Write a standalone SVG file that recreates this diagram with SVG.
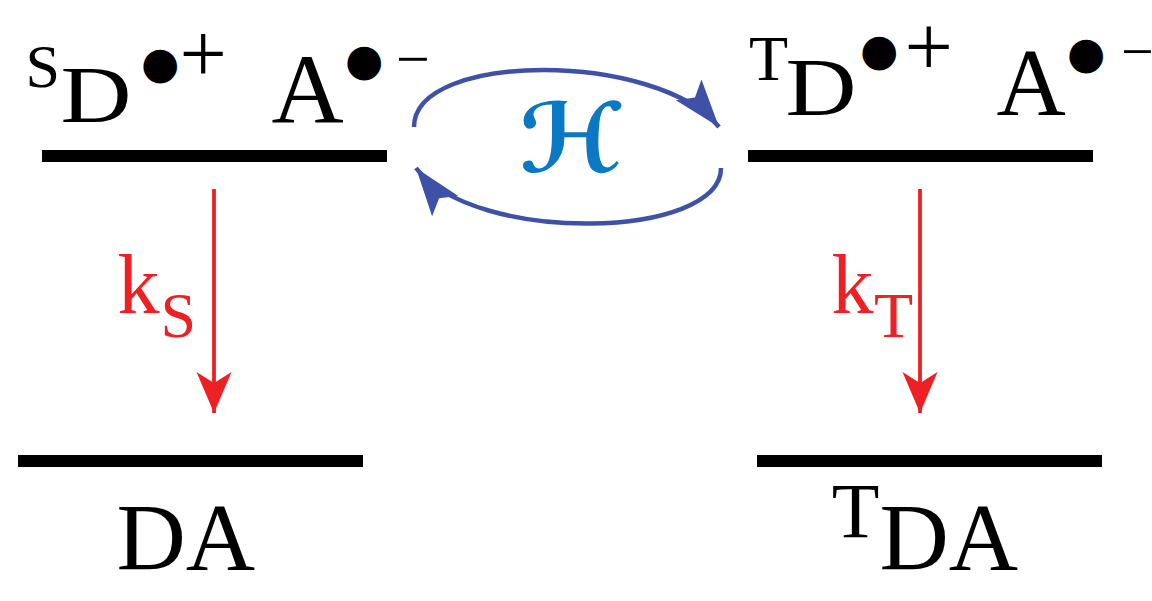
<svg xmlns="http://www.w3.org/2000/svg" width="1152" height="601" viewBox="0 0 1152 601">
<style>
.t{font-family:"Liberation Serif","Times New Roman",serif;fill:#000}
.b{font-family:"DejaVu Sans",sans-serif;fill:#000;font-size:44px}
.r{font-family:"Liberation Serif","Times New Roman",serif;fill:#ed2024}
.bar{fill:#000}
.blue{fill:none;stroke:#3f51a6;stroke-width:4.5}
.red{fill:none;stroke:#ed2024;stroke-width:3.8}
</style>
<defs>
<marker id="bh" markerUnits="userSpaceOnUse" orient="auto" refX="0" refY="0" markerWidth="10" markerHeight="10" overflow="visible">
<path d="M0,0 L-48,-16.5 L-38,0 L-48,16.5 Z" fill="#3f51a6"/>
</marker>
<marker id="rh" markerUnits="userSpaceOnUse" orient="auto" refX="0" refY="0" markerWidth="10" markerHeight="10" overflow="visible">
<path d="M0,0 L-41,-17.5 L-30,0 L-41,17.5 Z" fill="#ed2024"/>
</marker>
</defs>
<rect width="1152" height="601" fill="#fff"/>

<g id="node-sDA">
<rect class="bar" x="42" y="150" width="345" height="12"/>
<text class="t" x="25.5" y="87" font-size="62">S</text>
<text class="t" x="60.5" y="122" font-size="80" textLength="71" lengthAdjust="spacingAndGlyphs">D</text>
<text class="b" x="141" y="77.5">●</text>
<text class="t" x="179.5" y="82" font-size="84">+</text>
<text class="t" x="271.5" y="123" font-size="100">A</text>
<text class="b" x="345" y="74.5">●</text>
<text class="t" x="396" y="78.7" font-size="60">−</text>
</g>

<g id="node-tDA">
<rect class="bar" x="748" y="150" width="345" height="12"/>
<text class="t" x="749" y="80" font-size="64">T</text>
<text class="t" x="785.5" y="115" font-size="83" textLength="71" lengthAdjust="spacingAndGlyphs">D</text>
<text class="b" x="860" y="65">●</text>
<text class="t" x="904.4" y="76" font-size="86">+</text>
<text class="t" x="996.6" y="115" font-size="96">A</text>
<text class="b" x="1067" y="68">●</text>
<text class="t" x="1121" y="71.2" font-size="58">−</text>
</g>

<g id="node-DA">
<rect class="bar" x="18" y="455" width="345" height="12"/>
<text class="t" x="116.5" y="570" font-size="96">DA</text>
</g>

<g id="node-TDA">
<rect class="bar" x="757" y="455" width="345" height="12"/>
<text class="t" x="831.7" y="537" font-size="78">T</text>
<text class="t" x="879.5" y="570" font-size="96">DA</text>
</g>

<g id="connectors">
<path class="blue" d="M414,127 C414,51 657,51 719,127" marker-end="url(#bh)"/>
<path class="blue" d="M721,168 C721,239 475,245 416,168" marker-end="url(#bh)"/>
<path class="red" d="M214,189 L214,413" marker-end="url(#rh)"/>
<path class="red" d="M920,189 L920,413" marker-end="url(#rh)"/>
</g>

<g id="labels">
<text x="571" y="172" font-size="96" font-weight="bold" text-anchor="middle" fill="#0a78c2" font-family="'DejaVu Sans',sans-serif">ℋ</text>
<text class="r" x="117.4" y="313" font-size="84">k</text>
<text class="r" x="160.4" y="337" font-size="64">S</text>
<text class="r" x="831.4" y="313" font-size="84">k</text>
<text class="r" x="874" y="337" font-size="64">T</text>
</g>
</svg>
